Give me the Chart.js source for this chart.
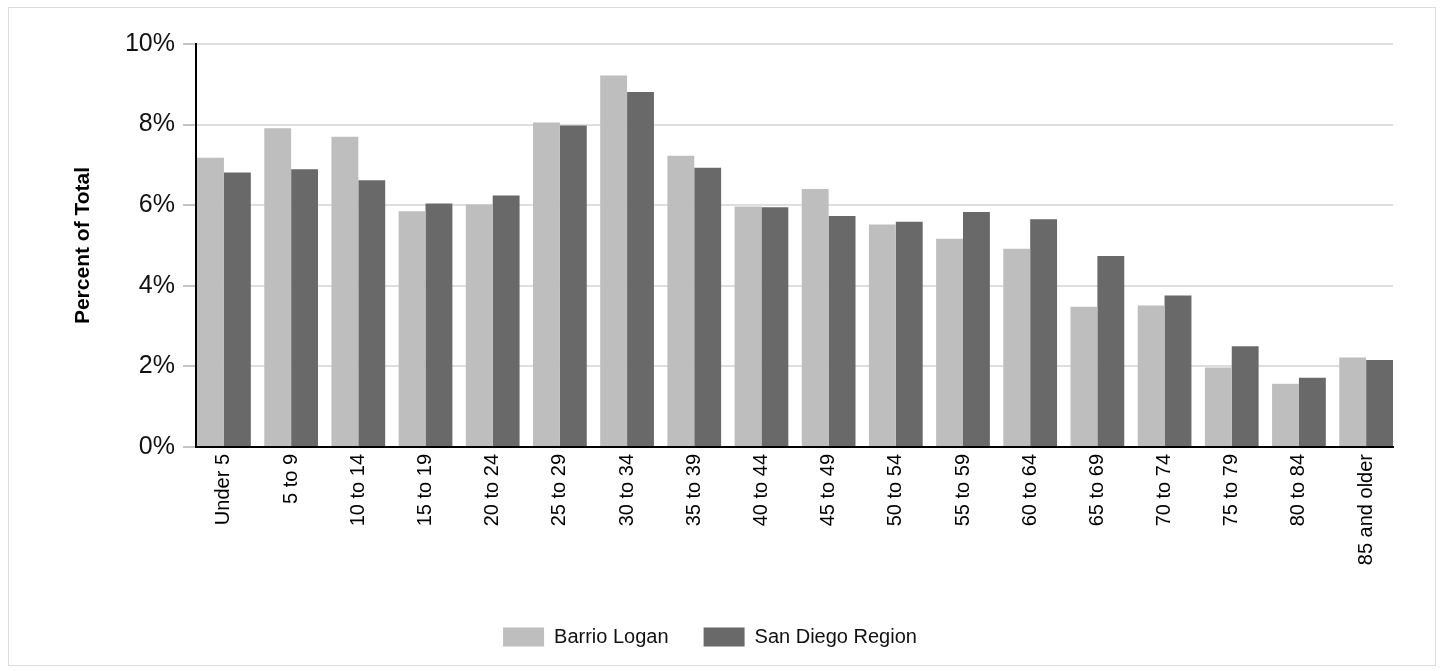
<!DOCTYPE html>
<html>
<head>
<meta charset="utf-8">
<script src="https://cdn.jsdelivr.net/npm/chart.js@4"></script>
<style>
  html, body { margin: 0; padding: 0; background: #fff; }
  #wrap { position: relative; width: 1441px; height: 671px; }
  #frame { position: absolute; left: 8px; top: 7px; width: 1426px; height: 657px; border: 1px solid #dcdcdc; pointer-events: none; }
  canvas { position: absolute; left: 0; top: 0; }
</style>
</head>
<body>
<div id="wrap">
  <canvas id="c" width="1441" height="671"></canvas>
  <div id="frame"></div>
</div>
<script>
const categories = ["Under 5", "5 to 9", "10 to 14", "15 to 19", "20 to 24", "25 to 29", "30 to 34", "35 to 39", "40 to 44", "45 to 49", "50 to 54", "55 to 59", "60 to 64", "65 to 69", "70 to 74", "75 to 79", "80 to 84", "85 and older"];
const barrioLogan = [7.18, 7.91, 7.70, 5.85, 6.02, 8.05, 9.22, 7.23, 5.97, 6.40, 5.52, 5.17, 4.92, 3.48, 3.51, 1.97, 1.57, 2.22];
const sanDiegoRegion = [6.81, 6.89, 6.62, 6.04, 6.24, 7.98, 8.81, 6.93, 5.95, 5.73, 5.59, 5.83, 5.65, 4.74, 3.76, 2.50, 1.72, 2.16];
const seriesNames = ["Barrio Logan", "San Diego Region"];
const yTicks = [0, 2, 4, 6, 8, 10];

const FONT = "'Liberation Sans', Arial, sans-serif";
const CAT_PCT = 0.8;

const toPoints = (arr) => arr.map((v, i) => ({ x: i, y: v }));

new Chart(document.getElementById('c'), {
  type: 'bar',
  data: {
    datasets: [
      { label: seriesNames[0], data: toPoints(barrioLogan), backgroundColor: '#bebebe', borderWidth: 0, categoryPercentage: CAT_PCT, barPercentage: 1.0 },
      { label: seriesNames[1], data: toPoints(sanDiegoRegion), backgroundColor: '#696969', borderWidth: 0, categoryPercentage: CAT_PCT, barPercentage: 1.0 }
    ]
  },
  options: {
    responsive: false,
    devicePixelRatio: 1,
    animation: false,
    layout: { padding: { top: 44, left: 27, right: 48, bottom: 14 } },
    plugins: {
      tooltip: { enabled: false },
      legend: {
        position: 'bottom',
        labels: {
          boxWidth: 41, boxHeight: 19, padding: 35,
          color: '#111',
          font: { family: FONT, size: 20 }
        }
      }
    },
    scales: {
      x: {
        type: 'linear',
        min: -CAT_PCT / 2 - 0.016,
        max: categories.length - 1 + CAT_PCT / 2,
        offset: false,
        afterBuildTicks: (s) => { s.ticks = categories.map((c, i) => ({ value: i })); },
        grid: { display: false, drawTicks: false },
        border: { display: true, color: '#000', width: 2 },
        ticks: {
          minRotation: 90, maxRotation: 90, autoSkip: false,
          color: '#000', padding: 7,
          font: { family: FONT, size: 20 },
          callback: (v) => categories[v]
        },
        afterFit: (s) => { s.height = 145; }
      },
      y: {
        min: 0, max: 10,
        afterBuildTicks: (s) => { s.ticks = yTicks.map(v => ({ value: v })); },
        grid: { color: '#dedede', lineWidth: 2, tickLength: 13, tickColor: '#888', tickWidth: 1 },
        border: { display: true, color: '#000', width: 2 },
        ticks: {
          color: '#111', padding: 8,
          font: { family: FONT, size: 25 },
          callback: (v) => v + '%'
        },
        title: {
          display: true, text: 'Percent of Total', color: '#000',
          font: { family: FONT, size: 21, weight: 'bold' },
          padding: { top: 44, bottom: 0 }
        },
        afterFit: (s) => { s.width = 196 - 27; }
      }
    }
  }
});
</script>
</body>
</html>
